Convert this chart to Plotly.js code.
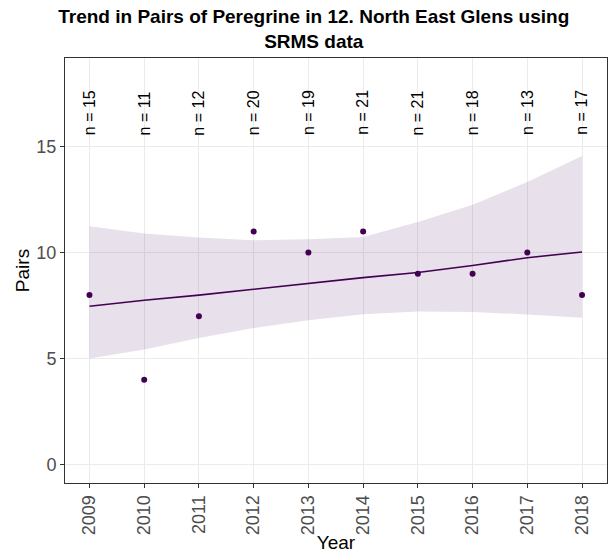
<!DOCTYPE html>
<html>
<head>
<meta charset="utf-8">
<script src="https://cdn.plot.ly/plotly-3.0.1.min.js"></script>
<style>
html,body{margin:0;padding:0;background:#fff;}
#chart{width:614px;height:553px;}
</style>
</head>
<body>
<div id="chart"></div>
<script>
// Data
const years = [2009, 2010, 2011, 2012, 2013, 2014, 2015, 2016, 2017, 2018];
const pairs = [8, 4, 7, 11, 10, 11, 9, 9, 10, 8];
const sampleN = [15, 11, 12, 20, 19, 21, 21, 18, 13, 17];
// Fitted trend and confidence band
const trendFit = [7.47, 7.75, 7.99, 8.27, 8.54, 8.82, 9.06, 9.39, 9.76, 10.03];
const bandUpper = [11.24, 10.9, 10.71, 10.58, 10.63, 10.74, 11.44, 12.26, 13.33, 14.56];
const bandLower = [5.0, 5.42, 5.97, 6.44, 6.81, 7.09, 7.22, 7.2, 7.08, 6.92];
const nLabelY = 15.45;

const purple = '#440154';
const font = 'Liberation Sans, Arial, Helvetica, sans-serif';

const traces = [
  {x: years, y: bandLower, type: 'scatter', mode: 'lines', line: {width: 0, color: 'rgba(0,0,0,0)'}, hoverinfo: 'skip', showlegend: false},
  {x: years, y: bandUpper, type: 'scatter', mode: 'lines', fill: 'tonexty', fillcolor: 'rgba(68,1,84,0.12)', line: {width: 0, color: 'rgba(0,0,0,0)'}, hoverinfo: 'skip', showlegend: false},
  {x: years, y: trendFit, type: 'scatter', mode: 'lines', line: {color: purple, width: 1.6}, showlegend: false},
  {x: years, y: pairs, type: 'scatter', mode: 'markers', marker: {color: purple, size: 6}, showlegend: false}
];

const annotations = years.map((yr, i) => ({
  x: yr, y: nLabelY, xref: 'x', yref: 'y',
  text: 'n = ' + sampleN[i], showarrow: false, textangle: -90,
  xanchor: 'center', yanchor: 'bottom',
  font: {family: font, size: 16, color: '#000'}
}));

const layout = {
  width: 614, height: 553,
  margin: {l: 64.5, r: 7, t: 57.5, b: 70, pad: 0},
  paper_bgcolor: '#fff', plot_bgcolor: '#fff',
  title: {
    text: '<b>Trend in Pairs of Peregrine in 12. North East Glens using<br>SRMS data</b>',
    font: {family: font, size: 19, color: '#000'},
    x: 0.511, xanchor: 'center', xref: 'container',
    y: 0.958, yanchor: 'middle', yref: 'container'
  },
  xaxis: {
    range: [2008.553, 2018.456], tickmode: 'array', tickvals: years, ticktext: years.map(String),
    tickangle: -90, tickfont: {family: font, size: 18, color: '#4d4d4d'},
    ticks: 'outside', ticklen: 4, tickcolor: '#333', tickwidth: 1,
    showgrid: true, gridcolor: '#ebebeb', gridwidth: 1, zeroline: false,
    showline: true, linecolor: '#333', linewidth: 1, mirror: true,
    title: {text: 'Year', font: {family: font, size: 19, color: '#000'}, standoff: 2}
  },
  yaxis: {
    range: [-0.88, 19.19], tickmode: 'array', tickvals: [0, 5, 10, 15],
    tickfont: {family: font, size: 18, color: '#4d4d4d'},
    ticks: 'outside', ticklen: 4, tickcolor: '#333', tickwidth: 1,
    showgrid: true, gridcolor: '#ebebeb', gridwidth: 1, zeroline: false,
    showline: true, linecolor: '#333', linewidth: 1, mirror: true,
    title: {text: 'Pairs', font: {family: font, size: 19, color: '#000'}, standoff: 1}
  },
  annotations: annotations,
  showlegend: false
};

Plotly.newPlot('chart', traces, layout, {displayModeBar: false, staticPlot: true});
</script>
</body>
</html>
